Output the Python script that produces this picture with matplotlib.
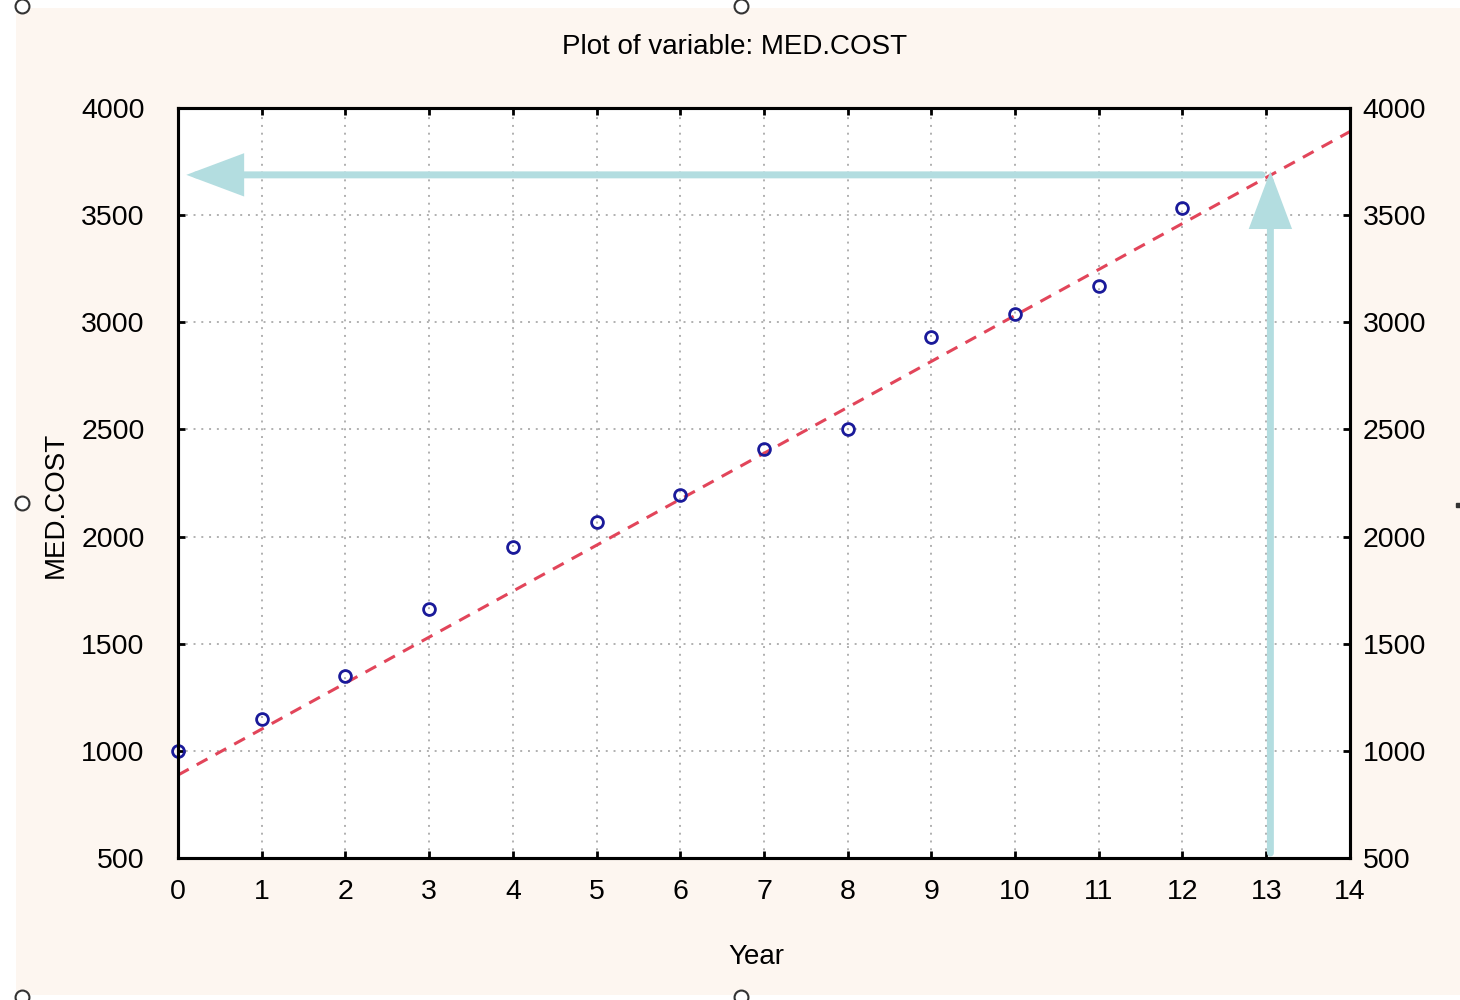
import matplotlib
matplotlib.use("Agg")
import matplotlib.pyplot as plt
from matplotlib.patches import Rectangle, FancyArrowPatch

# data
years = [0, 1, 2, 3, 4, 5, 6, 7, 8, 9, 10, 11, 12]
med_cost = [1000, 1150, 1350, 1660, 1950, 2070, 2195, 2410, 2500, 2930, 3040, 3170, 3535]
fit_x = [0, 14]
fit_y = [887, 3890]
# forecast arrows: (x0, y0) -> (x1, y1)
arrow_up = [(13.05, 523), (13.05, 3705)]
arrow_left = [(12.95, 3688), (0.1, 3688)]

xticks = list(range(0, 15))
yticks = list(range(500, 4001, 500))

font = ['Liberation Sans', 'DejaVu Sans']
plt.rcParams['font.family'] = font
beige = '#fdf6f0'
cyan = '#b3dde0'

fig = plt.figure(figsize=(14.6, 10), dpi=100, facecolor='white')

# background panel + selection handles
bg = fig.add_axes([0, 0, 1, 1], zorder=-5)
bg.set_xlim(0, 1460)
bg.set_ylim(1000, 0)
bg.axis('off')
bg.add_patch(Rectangle((16, 8), 1444, 987, facecolor=beige, edgecolor='none'))
hx = [22, 741, 22, 22, 741]
hy = [6, 6, 503, 997, 997]
bg.plot(hx, hy, 'o', ms=10, mfc='white', mec='#333333', mew=1.5, ls='none', clip_on=False)
bg.plot([1458], [505], 's', ms=3, color='#333333')

ax = fig.add_axes([0.1219, 0.142, 0.8027, 0.75])
ax.set_facecolor('white')
ax.set_xlim(0, 14)
ax.set_ylim(500, 4000)
ax.set_xticks(xticks)
ax.set_yticks(yticks)
ax.grid(True, color='#b0b0b0', ls=(0, (1, 3)), lw=1.4)
ax.set_axisbelow(True)

ax2 = ax.twinx()
ax2.set_ylim(500, 4000)
ax2.set_yticks(yticks)

for a in (ax, ax2):
    for s in a.spines.values():
        s.set_linewidth(2.2)
        s.set_color('black')

ax.tick_params(direction='in', length=5, width=2, top=True, labelsize=20.5)
ax.tick_params(axis='x', pad=15)
ax.tick_params(axis='y', pad=24)
ax2.tick_params(direction='in', length=5, width=2, labelsize=20.5, pad=9)

ax.plot(fit_x, fit_y, color='#e2455a', lw=2.2, ls=(0, (4, 3)), zorder=3)
ax.plot(years, med_cost, 'o', ms=8.5, mfc='none', mec='#1a1a9a', mew=2, zorder=4, clip_on=False)

for (p0, p1) in [arrow_up, arrow_left]:
    arr = FancyArrowPatch(p0, p1, arrowstyle='-|>,head_length=32,head_width=12',
                          mutation_scale=1, lw=5, color=cyan, shrinkA=0, shrinkB=0,
                          capstyle='round', joinstyle='miter', zorder=5)
    ax.add_patch(arr)

fig.text(0.503, 0.953, 'Plot of variable: MED.COST', ha='center', va='center', fontsize=20)
fig.text(0.518, 0.043, 'Year', ha='center', va='center', fontsize=20)
fig.text(0.038, 0.495, 'MED.COST', ha='center', va='center', rotation=90, fontsize=20)

fig.savefig('out.png', dpi=100, facecolor='white')
